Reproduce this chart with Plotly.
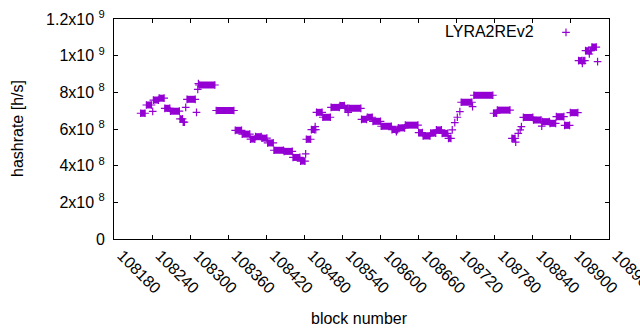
import plotly.graph_objects as go

# Runs of consecutive blocks sharing (about) the same hashrate estimate
run_start = [108222, 108231, 108241, 108242, 108251, 108260, 108269, 108284, 108289, 108293,
             108295, 108310, 108312, 108313, 108314, 108341, 108371, 108382, 108395, 108403,
             108413, 108422, 108432, 108448, 108462, 108474, 108482, 108483, 108491, 108497,
             108498, 108499, 108509, 108522, 108536, 108544, 108549, 108550, 108570, 108579,
             108588, 108601, 108618, 108625, 108626, 108628, 108639, 108660, 108667, 108679,
             108688, 108697, 108707, 108713, 108717, 108721, 108725, 108727, 108745, 108747,
             108778, 108784, 108807, 108813, 108817, 108820, 108822, 108825, 108841, 108854,
             108855, 108867, 108877, 108890, 108899, 108912, 108918, 108919, 108923, 108929,
             108930, 108933, 108942]
run_end = [108229, 108239, 108241, 108250, 108259, 108268, 108283, 108288, 108291, 108293,
           108308, 108310, 108312, 108313, 108339, 108369, 108381, 108394, 108402, 108412,
           108421, 108431, 108447, 108461, 108473, 108481, 108482, 108490, 108496, 108497,
           108498, 108508, 108521, 108535, 108543, 108548, 108549, 108569, 108578, 108587,
           108600, 108617, 108624, 108625, 108627, 108638, 108659, 108666, 108678, 108687,
           108696, 108706, 108711, 108713, 108717, 108721, 108725, 108744, 108745, 108777,
           108783, 108804, 108812, 108813, 108817, 108820, 108822, 108840, 108853, 108854,
           108866, 108876, 108889, 108898, 108911, 108917, 108918, 108922, 108928, 108929,
           108932, 108940, 108942]
run_hashrate = [686e6, 731e6, 696e6, 758e6, 768e6, 713e6, 697e6, 655e6, 637e6, 718e6,
                762e6, 691e6, 816e6, 848e6, 840e6, 701e6, 593e6, 572e6, 545e6, 558e6,
                550e6, 524e6, 484e6, 478e6, 445e6, 425e6, 464e6, 544e6, 597e6, 613e6,
                597e6, 691e6, 664e6, 718e6, 728e6, 713e6, 691e6, 713e6, 653e6, 664e6,
                642e6, 615e6, 597e6, 585e6, 597e6, 606e6, 621e6, 580e6, 562e6, 578e6,
                595e6, 576e6, 549e6, 595e6, 635e6, 664e6, 695e6, 746e6, 722e6, 784e6,
                686e6, 703e6, 549e6, 528e6, 576e6, 595e6, 613e6, 663e6, 649e6, 616e6,
                640e6, 631e6, 667e6, 620e6, 689e6, 973e6, 958e6, 973e6, 1027e6, 1009e6,
                1027e6, 1047e6, 967e6]

series_name = "LYRA2REv2"
x_title = "block number"
y_title = "hashrate [h/s]"
x_tick_vals = [108180, 108240, 108300, 108360, 108420, 108480, 108540, 108600,
               108660, 108720, 108780, 108840, 108900, 108960]
x_tick_text = ["108180", "108240", "108300", "108360", "108420", "108480", "108540",
               "108600", "108660", "108720", "108780", "108840", "108900", "108960"]
y_tick_vals = [0, 2e8, 4e8, 6e8, 8e8, 1e9, 1.2e9]
y_tick_text = ["0", "2x10 <sup>8</sup>", "4x10 <sup>8</sup>", "6x10 <sup>8</sup>",
               "8x10 <sup>8</sup>", "1x10 <sup>9</sup>", "1.2x10 <sup>9</sup>"]

COLOR = "#9400D3"
FONT = "Liberation Sans, Arial, sans-serif"

lx, ly, mx, my = [], [], [], []
for s, e, v in zip(run_start, run_end, run_hashrate):
    lx += [s, e, None]
    ly += [v, v, None]
    mx.append(s)
    my.append(v)
    if e != s:
        mx.append(e)
        my.append(v)

fig = go.Figure()
fig.add_trace(go.Scatter(x=lx, y=ly, mode="lines", line=dict(color=COLOR, width=7),
                         showlegend=False, hoverinfo="skip"))
fig.add_trace(go.Scatter(x=mx, y=my, mode="markers", name=" ",
                         marker=dict(symbol="cross-thin", size=5.5,
                                     line=dict(color=COLOR, width=1.2), color=COLOR)))

axis_common = dict(showline=True, linecolor="black", linewidth=1, mirror="ticks",
                   ticks="inside", ticklen=4, tickcolor="black", showgrid=False,
                   zeroline=False, automargin=False,
                   tickfont=dict(size=16, family=FONT, color="black"))
fig.update_xaxes(range=[108180, 108960], tickmode="array", tickvals=x_tick_vals,
                 ticktext=x_tick_text, tickangle=45, ticklabeloverflow="allow",
                 ticklabelshift=8, **axis_common)
fig.update_yaxes(range=[0, 1.2e9], tickmode="array", tickvals=y_tick_vals,
                 ticktext=y_tick_text, ticklabelstandoff=5, **axis_common)

# legend text (gnuplot puts it left of the sample)
fig.add_annotation(text=series_name, xref="paper", yref="paper", x=(536 - 114) / 495,
                   y=(239 - 31) / 220, xanchor="right", yanchor="middle", showarrow=False,
                   font=dict(size=16, color="black", family=FONT))
# axis titles
fig.add_annotation(text=x_title, xref="paper", yref="paper", x=(359 - 114) / 495,
                   y=(239 - 318) / 220, xanchor="center", yanchor="middle", showarrow=False,
                   font=dict(size=16, color="black", family=FONT))
fig.add_annotation(text=y_title, xref="paper", yref="paper", x=(17 - 114) / 495,
                   y=(239 - 129) / 220, xanchor="center", yanchor="middle", showarrow=False,
                   textangle=-90, font=dict(size=16, color="black", family=FONT))

fig.update_layout(width=640, height=330, margin=dict(l=114, r=31, t=19, b=91),
                  paper_bgcolor="white", plot_bgcolor="white",
                  font=dict(family=FONT, size=16, color="black"),
                  showlegend=True,
                  legend=dict(x=(546 - 114) / 495, y=(239 - 15.5) / 220, xanchor="left",
                              yanchor="top", bgcolor="rgba(0,0,0,0)", borderwidth=0,
                              font=dict(size=16)))

fig.write_html("out.html", post_script="document.body.style.margin='0px';",
               config={"displayModeBar": False})
